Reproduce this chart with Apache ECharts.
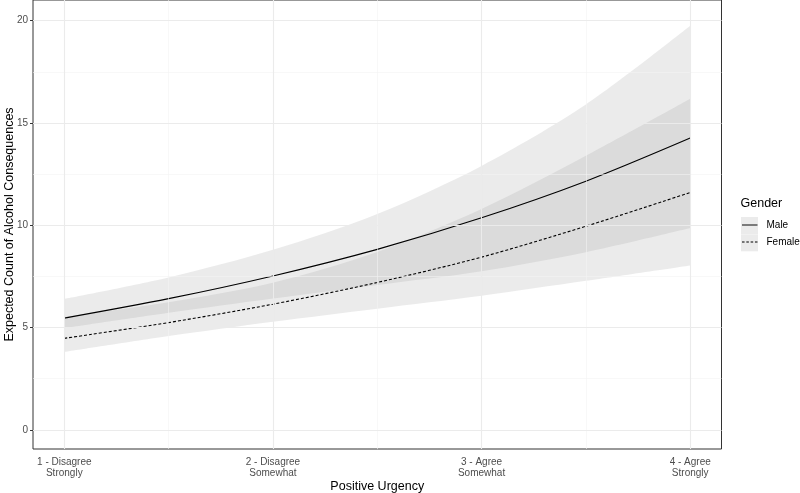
<!DOCTYPE html>
<html>
<head>
<meta charset="utf-8">
<script src="https://cdn.jsdelivr.net/npm/echarts@6/dist/echarts.min.js"></script>
<style>html,body{margin:0;padding:0;background:#fff}#c{width:800px;height:493px}</style>
</head>
<body>
<div id="c"></div>
<script>
// ---- data ----
const xValues   = [1, 1.5, 2, 2.5, 3, 3.5, 4];
const maleMean  = [5.46, 6.41, 7.52, 8.82, 10.36, 12.15, 14.26];
const maleLow   = [4.97, 5.72, 6.42, 7.08, 7.75, 8.68, 9.86];
const maleHigh  = [6.40, 7.45, 8.80, 10.55, 12.90, 15.90, 19.75];
const femMean   = [4.47, 5.24, 6.14, 7.2, 8.44, 9.95, 11.6];
const femLow    = [3.80, 4.58, 5.28, 5.92, 6.55, 7.28, 8.03];
const femHigh   = [5.52, 6.24, 7.19, 8.69, 10.79, 13.39, 16.18];
const xTicks    = [1, 2, 3, 4];
const xTickLabels = ['1 - Disagree\nStrongly', '2 - Disagree\nSomewhat', '3 - Agree\nSomewhat', '4 - Agree\nStrongly'];
const yTicks    = [0, 5, 10, 15, 20];
const yMinor    = [2.5, 7.5, 12.5, 17.5];
const xMinor    = [1.5, 2.5, 3.5];

const pairs = (xs, ys) => xs.map((x, i) => [x, ys[i]]);
// band data as [y, x] so that stacking happens on the y dimension
const lowRows = lo => lo.map((v, i) => [v, xValues[i]]);
const diffRows = (hi, lo) => hi.map((v, i) => [v - lo[i], xValues[i]]);

const chart = echarts.init(document.getElementById('c'), null, {renderer: 'canvas'});
const FONT = 'Liberation Sans, Arial, sans-serif';
const bandFill = {color: '#999999', opacity: 0.2};
const hidden = {opacity: 0, width: 0};

const option = {
  animation: false,
  backgroundColor: '#ffffff',
  textStyle: {fontFamily: FONT},
  title: {
    text: 'Gender', left: 740.5, top: 197.5, padding: 0,
    textStyle: {fontSize: 12.5, fontWeight: 'normal', color: '#000', fontFamily: FONT}
  },
  legend: {
    data: [
      {name: 'Male', icon: 'path://M0,0h16v1h-16z'},
      {name: 'Female', icon: 'path://M0,0h2.6v1h-2.6zM4.4,0h2.6v1h-2.6zM8.8,0h2.6v1h-2.6zM13.2,0h2.6v1h-2.6z'}
    ],
    orient: 'vertical', left: 742, top: 220, padding: 0,
    itemWidth: 15.5, itemHeight: 1.1, itemGap: 7,
    textStyle: {fontSize: 10, color: '#000', fontFamily: FONT, padding: [0, 0, 0, 4]},
    selectedMode: false
  },
  graphic: [
    {type: 'rect', left: 741, top: 217, shape: {width: 17, height: 17}, style: {fill: '#ebebeb'}, z: -1},
    {type: 'rect', left: 741, top: 234.3, shape: {width: 17, height: 17}, style: {fill: '#ebebeb'}, z: -1}
  ],
  grid: {
    left: 33, right: 78.5, top: 0, bottom: 44,
    outerBoundsMode: 'none', containLabel: false,
    show: true, borderColor: '#333333', borderWidth: 1, backgroundColor: 'transparent'
  },
  xAxis: {
    type: 'value', min: 0.85, max: 4.15,
    name: 'Positive Urgency', nameLocation: 'middle', nameGap: 31, nameMoveOverlap: false,
    nameTextStyle: {fontSize: 12.5, color: '#000', fontFamily: FONT},
    axisLine: {show: false},
    axisTick: {show: true, length: 3, lineStyle: {color: '#333333'}, customValues: xTicks},
    axisLabel: {
      customValues: xTicks, margin: 8, fontSize: 10, color: '#4d4d4d', lineHeight: 11,
      fontFamily: FONT, align: 'center',
      formatter: v => xTickLabels[xTicks.indexOf(Math.round(v))] || ''
    },
    splitLine: {show: false}
  },
  yAxis: {
    type: 'value', min: -0.94, max: 21.01,
    name: 'Expected Count of Alcohol Consequences', nameLocation: 'middle', nameGap: 17, nameMoveOverlap: false,
    nameTextStyle: {fontSize: 12.5, color: '#000', fontFamily: FONT},
    axisLine: {show: false},
    axisTick: {show: true, length: 3, lineStyle: {color: '#333333'}, customValues: yTicks},
    axisLabel: {customValues: yTicks, margin: 5, fontSize: 10, color: '#4d4d4d', fontFamily: FONT},
    splitLine: {show: false}
  },
  series: [
    {
      name: 'grid', type: 'line', data: [], z: 1, silent: true,
      markLine: {
        silent: true, symbol: 'none', label: {show: false}, animation: false,
        data: [
          ...yMinor.map(v => ({yAxis: v, lineStyle: {color: '#f3f3f3', width: 0.6, type: 'solid'}})),
          ...xMinor.map(v => ({xAxis: v, lineStyle: {color: '#f3f3f3', width: 0.6, type: 'solid'}})),
          ...yTicks.map(v => ({yAxis: v, lineStyle: {color: '#ebebeb', width: 1.1, type: 'solid'}})),
          ...xTicks.map(v => ({xAxis: v, lineStyle: {color: '#ebebeb', width: 1.1, type: 'solid'}}))
        ]
      }
    },
    {name: 'maleLow', type: 'line', stack: 'm', data: lowRows(maleLow), encode: {x: 1, y: 0}, symbol: 'none', smooth: 0.3, lineStyle: hidden, z: 2, silent: true},
    {name: 'maleBand', type: 'line', stack: 'm', data: diffRows(maleHigh, maleLow), encode: {x: 1, y: 0}, symbol: 'none', smooth: 0.3, lineStyle: hidden, areaStyle: bandFill, z: 2, silent: true},
    {name: 'femLow', type: 'line', stack: 'f', data: lowRows(femLow), encode: {x: 1, y: 0}, symbol: 'none', smooth: 0.3, lineStyle: hidden, z: 2, silent: true},
    {name: 'femBand', type: 'line', stack: 'f', data: diffRows(femHigh, femLow), encode: {x: 1, y: 0}, symbol: 'none', smooth: 0.3, lineStyle: hidden, areaStyle: bandFill, z: 2, silent: true},
    {name: 'Male', type: 'line', data: pairs(xValues, maleMean), symbol: 'none', smooth: 0.3, z: 3,
      itemStyle: {color: '#000'}, lineStyle: {color: '#000', width: 1.1, type: 'solid'}},
    {name: 'Female', type: 'line', data: pairs(xValues, femMean), symbol: 'none', smooth: 0.3, z: 3,
      itemStyle: {color: '#000'}, lineStyle: {color: '#000', width: 1.1, type: [3, 2]}}
  ]
};
chart.setOption(option);
</script>
</body>
</html>
